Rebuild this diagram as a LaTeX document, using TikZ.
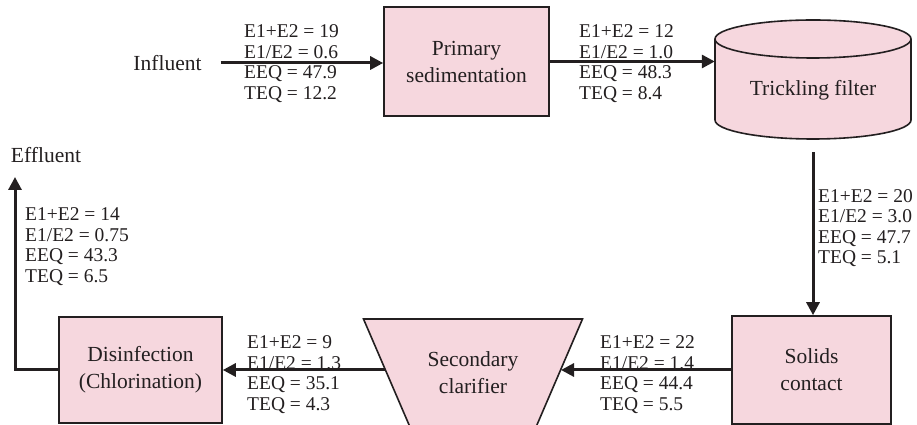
\documentclass[tikz,border=0pt]{standalone}
\usepackage{fontspec}
\setmainfont{Liberation Serif}
\usetikzlibrary{arrows.meta}
\definecolor{procfill}{RGB}{246,215,222}
\definecolor{ink}{RGB}{35,31,32}

\begin{document}
\begin{tikzpicture}[x=1pt,y=1pt,
    box/.style={draw=ink,fill=procfill,line width=1.6pt},
    proc/.style={box,align=center,text=ink,inner sep=0pt,font=\fontsize{21.5}{27}\selectfont},
    tag/.style={text=ink,inner sep=0pt,font=\fontsize{21.5}{27}\selectfont},
    conc/.style={anchor=west,align=left,text=ink,inner sep=0pt,font=\fontsize{19.5}{20.6}\selectfont},
    flow/.style={draw=ink,line width=3pt,-{Triangle[length=13pt,width=13pt]}}]
      \useasboundingbox (0.0,0.0) rectangle (917.0,425.0);
      % Drawing units
      \node[proc,minimum width=165pt,minimum height=109pt] (prim) at (466.5,363.5) {Primary\\sedimentation};
      % Line: trickling filter drum
      \filldraw[box] (715.0,386.0) -- (715.0,305.0) arc[start angle=180,end angle=360,x radius=98,y radius=19]
        -- (911.0,386.0) arc[start angle=0,end angle=180,x radius=98,y radius=19] -- cycle;
      \draw[box,fill=none] (715.0,386.0) arc[start angle=180,end angle=360,x radius=98,y radius=19];
      \node[tag,minimum width=196pt,minimum height=124pt] (tf) at (813.0,335.0) {Trickling filter};
      \node[proc,minimum width=159pt,minimum height=108pt] (solids) at (811.5,55.0) {Solids\\contact};
      % Line: secondary clarifier, cut off by the page edge
      \begin{scope}
        \clip (0.0,0.0) rectangle (917.0,425.0);
        \filldraw[box] (363.5,106.0) -- (582.5,106.0) -- (532.6,-10.0) -- (413.4,-10.0) -- cycle;
      \end{scope}
      \node[tag,align=center] (sc) at (473.0,52.0) {Secondary\\clarifier};
      \coordinate (scR) at (561.0,55.0);
      \coordinate (scL) at (385.0,55.0);
      \node[proc,minimum width=163pt,minimum height=106pt] (dis) at (140.5,55.0) {Disinfection\\(Chlorination)};
      \node[tag] (influent) at (167.5,362.0) {Influent};
      \node[tag] (effluent) at (46.0,270.0) {Effluent};
      \coordinate (out) at (15.0,248.0);
      % Done with units; drawing flows
      \draw[flow,shorten <=19pt] (influent.east) -- (influent.east -| prim.west);
      \draw[flow] (prim.east) -- (prim.east -| tf.west);
      \draw[flow] (tf.south) -- (tf.south |- solids.north);
      \draw[flow] (solids) -- (scR);
      \draw[flow] (scL) -- (dis);
      \draw[flow] (dis.west) -| (out);
      % Done with flows; drawing concentrations
      \node[conc] (c1) at (244.0,361.5) {E1+E2 = 19\\E1/E2 = 0.6\\EEQ = 47.9\\TEQ = 12.2};
      \node[conc] (c2) at (579.0,361.5) {E1+E2 = 12\\E1/E2 = 1.0\\EEQ = 48.3\\TEQ = 8.4};
      \node[conc] (c3) at (818.0,197.0) {E1+E2 = 20\\E1/E2 = 3.0\\EEQ = 47.7\\TEQ = 5.1};
      \node[conc] (c4) at (600.0,50.5) {E1+E2 = 22\\E1/E2 = 1.4\\EEQ = 44.4\\TEQ = 5.5};
      \node[conc] (c5) at (247.0,50.5) {E1+E2 = 9\\E1/E2 = 1.3\\EEQ = 35.1\\TEQ = 4.3};
      \node[conc] (c6) at (25.0,178.5) {E1+E2 = 14\\E1/E2 = 0.75\\EEQ = 43.3\\TEQ = 6.5};
      % Done with concentrations
\end{tikzpicture}
\end{document}
